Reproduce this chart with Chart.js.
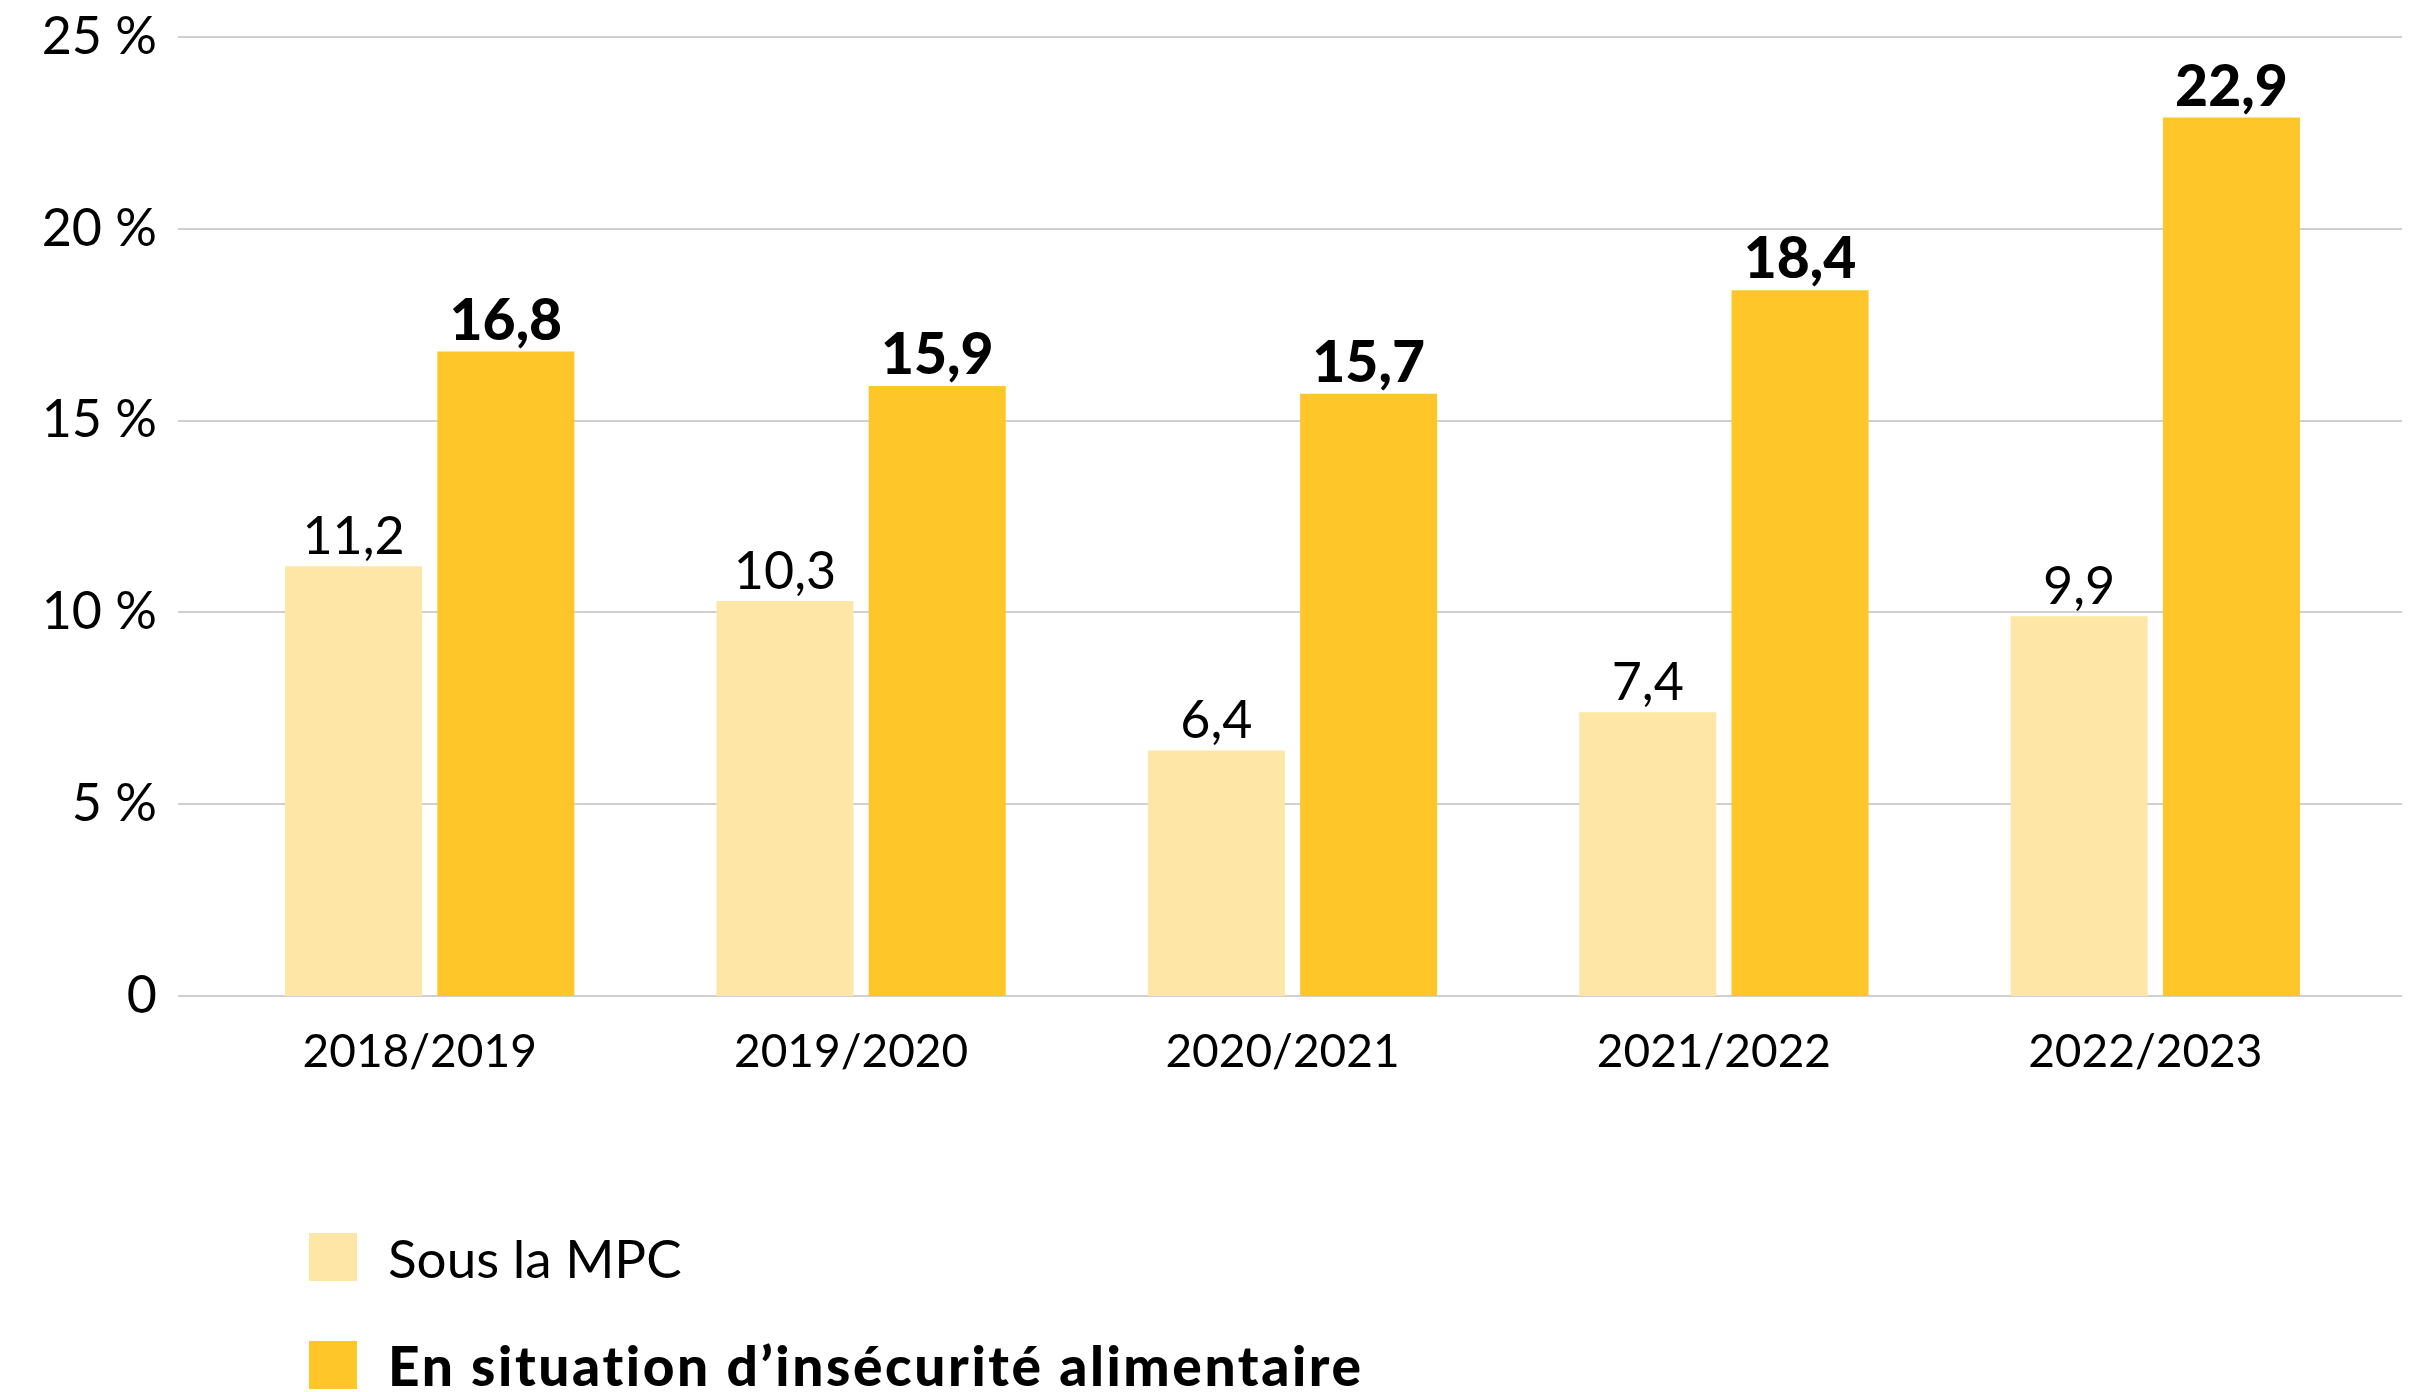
<!DOCTYPE html>
<html lang="fr">
<head>
<meta charset="utf-8">
<script src="https://cdn.jsdelivr.net/npm/chart.js@4.4.1/dist/chart.umd.min.js"></script>
<style>
  html, body { margin: 0; padding: 0; background: #fff; }
  #wrap { position: relative; width: 2422px; height: 1392px; }
  #legende { position: absolute; left: 309px; top: 1227px; font-family: Lato, sans-serif; font-size: 53px; color: #000; }
  .item { display: flex; align-items: center; height: 60px; margin-bottom: 48px; }
  .carre { width: 48px; height: 48px; margin-right: 31px; }
  .gras { font-weight: 900; font-size: 55px; letter-spacing: 2.6px; }
</style>
</head>
<body>
<div id="wrap">
  <canvas id="graphique" width="2422" height="1392"></canvas>
  <div id="legende"></div>
</div>
<script>
const annees = ["2018/2019", "2019/2020", "2020/2021", "2021/2022", "2022/2023"];
const sousMPC = [11.2, 10.3, 6.4, 7.4, 9.9];
const insecurite = [16.8, 15.9, 15.7, 18.4, 22.9];
const nomsSeries = ["Sous la MPC", "En situation d\u2019insécurité alimentaire"];
const couleurs = ["#FEE6A7", "#FFC629"];
const ticksY = [0, 5, 10, 15, 20, 25];

const police = "Lato, sans-serif";
const formater = v => v.toFixed(1).replace(".", ",");

// lignes de grille horizontales, un peu plus larges que la zone des barres
const grillePlugin = {
    id: "grille",
    beforeDatasetsDraw(chart) {
        const { ctx, chartArea, scales } = chart;
        ctx.save();
        ctx.strokeStyle = "#d0d0d0";
        ctx.lineWidth = 2;
        ticksY.forEach(t => {
            const y = Math.round(scales.y.getPixelForValue(t));
            ctx.beginPath();
            ctx.moveTo(chartArea.left - 36, y);
            ctx.lineTo(chartArea.right + 31, y);
            ctx.stroke();
        });
        ctx.restore();
    }
};

// valeurs au-dessus des barres
const etiquettesPlugin = {
    id: "etiquettes",
    afterDatasetsDraw(chart) {
        const ctx = chart.ctx;
        ctx.save();
        ctx.fillStyle = "#000";
        ctx.textAlign = "center";
        ctx.textBaseline = "alphabetic";
        chart.data.datasets.forEach((ds, i) => {
            ctx.font = i === 1 ? "900 57px " + police : "400 52px " + police;
            chart.getDatasetMeta(i).data.forEach((barre, j) => {
                ctx.fillText(formater(ds.data[j]), barre.x, barre.y - 12);
            });
        });
        ctx.restore();
    }
};

const ctx = document.getElementById("graphique").getContext("2d");
new Chart(ctx, {
    type: "bar",
    data: {
        labels: annees,
        datasets: [
            { label: nomsSeries[0], data: sousMPC, backgroundColor: couleurs[0] },
            { label: nomsSeries[1], data: insecurite, backgroundColor: couleurs[1] }
        ]
    },
    options: {
        responsive: false,
        animation: false,
        categoryPercentage: 0.706,
        barPercentage: 0.9,
        layout: { padding: { left: 0, right: 51, top: 37, bottom: 296 } },
        plugins: {
            legend: { display: false },
            tooltip: { enabled: false }
        },
        scales: {
            x: {
                grid: { display: false },
                border: { display: false },
                ticks: {
                    color: "#000",
                    padding: 21,
                    labelOffset: -10,
                    font: { family: police, size: 46 }
                },
                afterFit: s => { s.height = 100; s.paddingLeft = 0; s.paddingRight = 0; }
            },
            y: {
                min: 0,
                max: 25,
                grid: { display: false, drawTicks: false },
                border: { display: false },
                ticks: {
                    stepSize: 5,
                    color: "#000",
                    padding: 57,
                    font: { family: police, size: 52 },
                    callback: v => v === 0 ? "0" : v + " %"
                },
                afterFit: s => { s.width = 214; s.paddingTop = 0; s.paddingBottom = 0; }
            }
        }
    },
    plugins: [grillePlugin, etiquettesPlugin]
});

// légende verticale
const legende = document.getElementById("legende");
nomsSeries.forEach((nom, i) => {
    const item = document.createElement("div");
    item.className = "item";
    item.innerHTML = '<span class="carre" style="background:' + couleurs[i] + '"></span>' +
        '<span' + (i === 1 ? ' class="gras"' : '') + '>' + nom + '</span>';
    legende.appendChild(item);
});
</script>
</body>
</html>
